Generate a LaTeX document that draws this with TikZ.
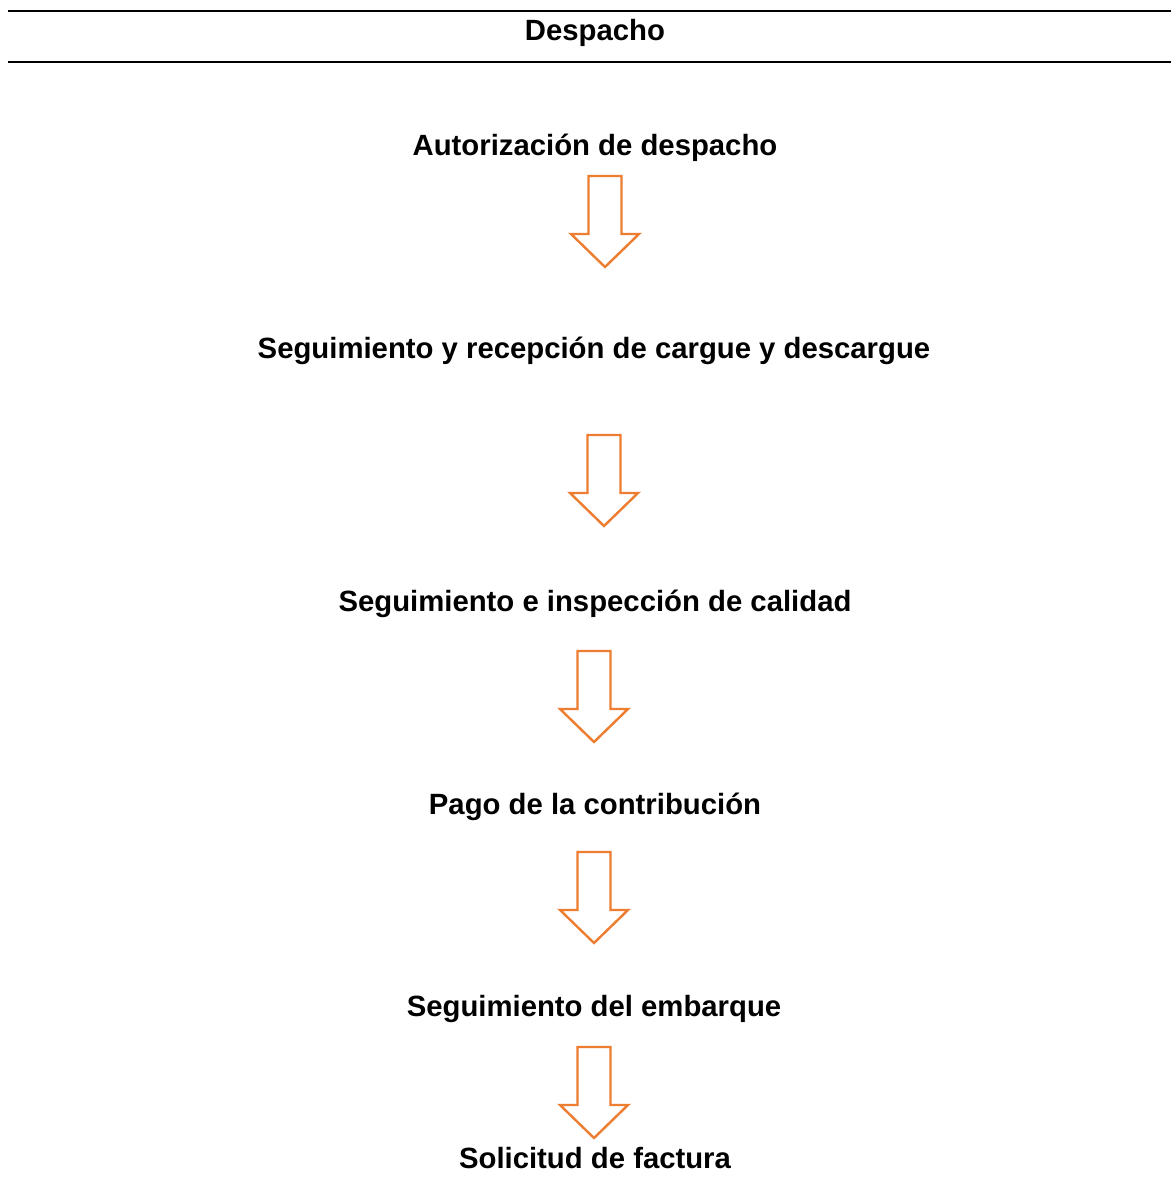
\documentclass[tikz,border=0pt]{standalone}
\usepackage{fontspec}
\setmainfont{Liberation Sans}
\begin{document}
\begin{tikzpicture}[x=1pt,y=-1pt,
  steplabel/.style={font=\fontsize{29.3}{34}\selectfont\bfseries, inner sep=0pt, anchor=base},
  arrowline/.style={draw=arroworange, line width=2.4pt, line join=miter, fill=white},
  downarrow/.pic={\path[arrowline] (-16.5,0) -- (16.5,0) -- (16.5,58) -- (34,58)
      -- (0,91) -- (-34,58) -- (-16.5,58) -- cycle;}]
\definecolor{arroworange}{HTML}{ED7D31}
\useasboundingbox (0,0) rectangle (1171,1197);
\fill[white] (0,0) rectangle (1171,1197);

% header rules
\draw[line width=2pt] (8,11) -- (1171,11);
\draw[line width=2pt] (8,62) -- (1171,62);
\node[steplabel] (title) at (595,40.5) {Despacho};

% steps
\node[steplabel] (s1) at (595,155.5) {Autorización de despacho};
\node[steplabel] (s2) at (594,358.5) {Seguimiento y recepción de cargue y descargue};
\node[steplabel] (s3) at (595,611.5) {Seguimiento e inspección de calidad};
\node[steplabel] (s4) at (595,814.5) {Pago de la contribución};
\node[steplabel] (s5) at (594,1016.5) {Seguimiento del embarque};
\node[steplabel] (s6) at (595,1168.5) {Solicitud de factura};

% block arrows between the steps
\pic at (605,176) {downarrow};
\pic at (604,435) {downarrow};
\pic at (594,651) {downarrow};
\pic at (594,852) {downarrow};
\pic at (594,1047) {downarrow};
\end{tikzpicture}
\end{document}
